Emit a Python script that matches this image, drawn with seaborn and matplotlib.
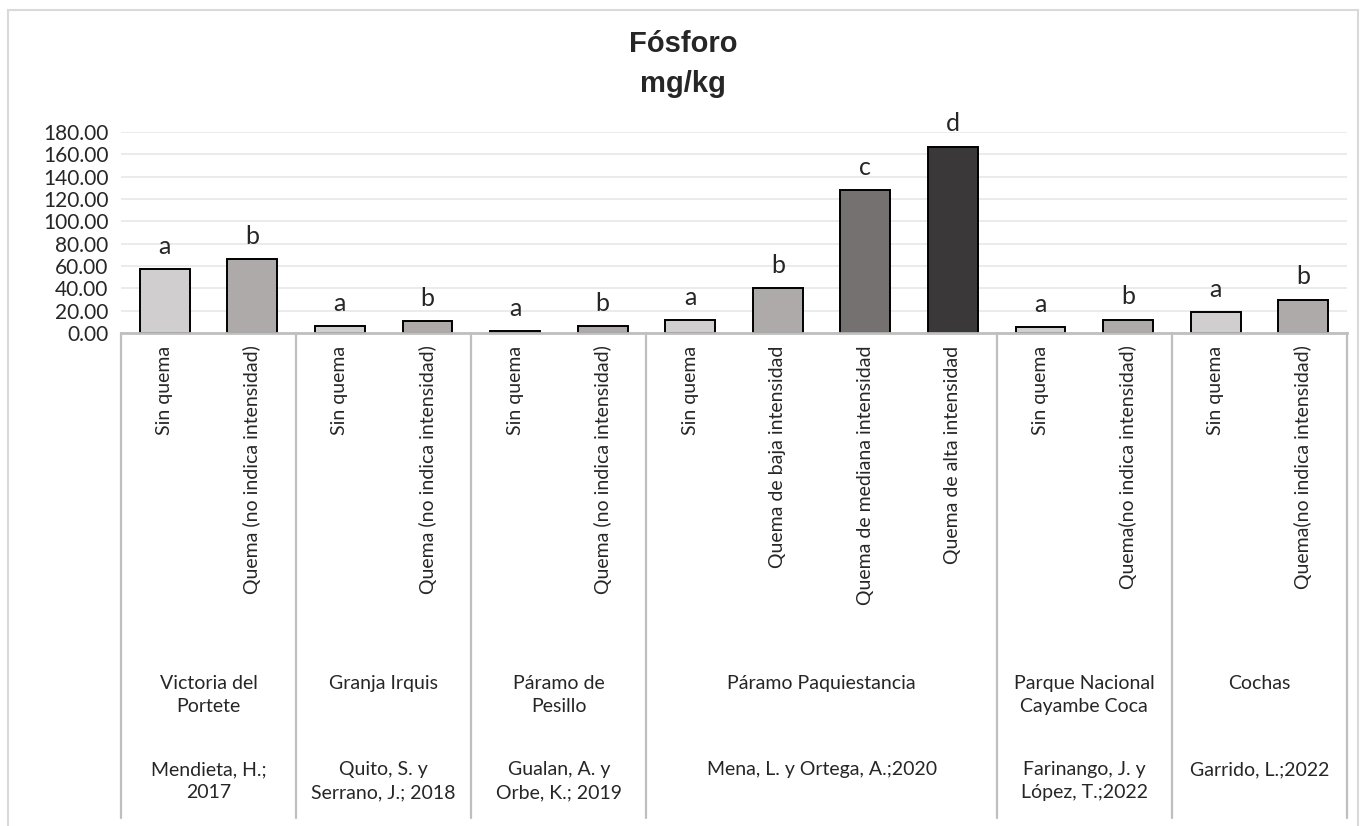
import numpy as np
import pandas as pd
import matplotlib.pyplot as plt
import seaborn as sns
from matplotlib.patches import Rectangle
import matplotlib.transforms as mtransforms

tratamientos = ["Sin quema", "Quema (no indica intensidad)",
                "Sin quema", "Quema (no indica intensidad)",
                "Sin quema", "Quema (no indica intensidad)",
                "Sin quema", "Quema de baja intensidad",
                "Quema de mediana intensidad", "Quema de alta intensidad",
                "Sin quema", "Quema(no indica intensidad)",
                "Sin quema", "Quema(no indica intensidad)"]
valores = [57, 66, 6.3, 11, 2, 6.3, 11.5, 40.5, 128, 167, 5.5, 12, 19, 30]
letras = ["a", "b", "a", "b", "a", "b", "a", "b", "c", "d", "a", "b", "a", "b"]
tipo = ["sin", "quema", "sin", "quema", "sin", "quema",
        "sin", "quema", "mediana", "alta", "sin", "quema", "sin", "quema"]

sitios = ["Victoria del\nPortete", "Granja Irquis", "Páramo de\nPesillo",
          "Páramo Paquiestancia", "Parque Nacional\nCayambe Coca", "Cochas"]
autores = ["Mendieta, H.;\n2017", "Quito, S. y\nSerrano, J.; 2018",
           "Gualan, A. y\nOrbe, K.; 2019", "Mena, L. y Ortega, A.;2020",
           "Farinango, J. y\nLópez, T.;2022", "Garrido, L.;2022"]
barras_por_sitio = [2, 2, 2, 4, 2, 2]

colores = {"sin": "#d0cece", "quema": "#aeaaaa",
           "mediana": "#767171", "alta": "#3a3838"}

sns.set_style("white")
plt.rcParams['font.family'] = ['Lato', 'DejaVu Sans']

df = pd.DataFrame({"id": [str(i) for i in range(len(valores))],
                   "valor": valores, "tipo": tipo})
paleta = {str(i): colores[t] for i, t in enumerate(tipo)}

fig = plt.figure(figsize=(13.66, 8.26), dpi=100)
ax = fig.add_axes([121 / 1366, 1 - 333 / 826, (1347 - 121) / 1366, 201 / 826])

sns.barplot(data=df, x="id", y="valor", hue="id", palette=paleta,
            legend=False, width=0.57, edgecolor="black", linewidth=1.4,
            saturation=1, ax=ax, zorder=3)

ax.set_ylim(0, 180)
ax.set_xlim(-0.5, len(valores) - 0.5)
ax.set_yticks(np.arange(0, 181, 20))
ax.set_yticklabels([f"{v:.2f}" for v in np.arange(0, 181, 20)], fontsize=15)
ax.yaxis.grid(True, color="#e8e8e8", linewidth=1.2, zorder=0)
ax.set_axisbelow(True)
ax.tick_params(axis="y", length=0, pad=9)
ax.set_xticks(range(len(tratamientos)))
ax.set_xticklabels(tratamientos, rotation=90, fontsize=14)
ax.tick_params(axis="x", length=0, pad=9)
ax.set_xlabel("")
ax.set_ylabel("")
for s in ["top", "right", "left"]:
    ax.spines[s].set_visible(False)
ax.spines["bottom"].set_color("#bfbfbf")
ax.spines["bottom"].set_linewidth(2)
ax.spines["bottom"].set_zorder(4)

for i, (v, l) in enumerate(zip(valores, letras)):
    ax.text(i, v + 10, l, ha="center", va="bottom", fontsize=18, clip_on=False)

# cajas del eje de categorias multinivel
trans = mtransforms.blended_transform_factory(ax.transData, ax.transAxes)
y_fondo = -(818 - 333) / 201
y_sitio = -(675 - 333) / 201
y_autor = -(761 - 333) / 201
bordes = np.concatenate([[0], np.cumsum(barras_por_sitio)]) - 0.5
for b in bordes:
    ax.plot([b, b], [0, y_fondo], transform=trans, color="#bfbfbf",
            linewidth=1.6, clip_on=False)
for k in range(len(sitios)):
    xc = (bordes[k] + bordes[k + 1]) / 2
    ax.text(xc, y_sitio, sitios[k], transform=trans, ha="center", va="top",
            fontsize=14, linespacing=1.45)
    ax.text(xc, y_autor, autores[k], transform=trans, ha="center", va="top",
            fontsize=14, linespacing=1.45)

fig.text(0.5, 1 - 64 / 826, "Fósforo\nmg/kg", ha="center", va="center",
         fontsize=21, fontweight="bold", family="Liberation Sans",
         linespacing=1.5)

fig.patches.append(Rectangle((8 / 1366, -0.01), 1350 / 1366, 1.004 - 5 / 826,
                             transform=fig.transFigure, fill=False,
                             edgecolor="#d9d9d9", linewidth=1.5))

fig.savefig("out.png", dpi=100)
